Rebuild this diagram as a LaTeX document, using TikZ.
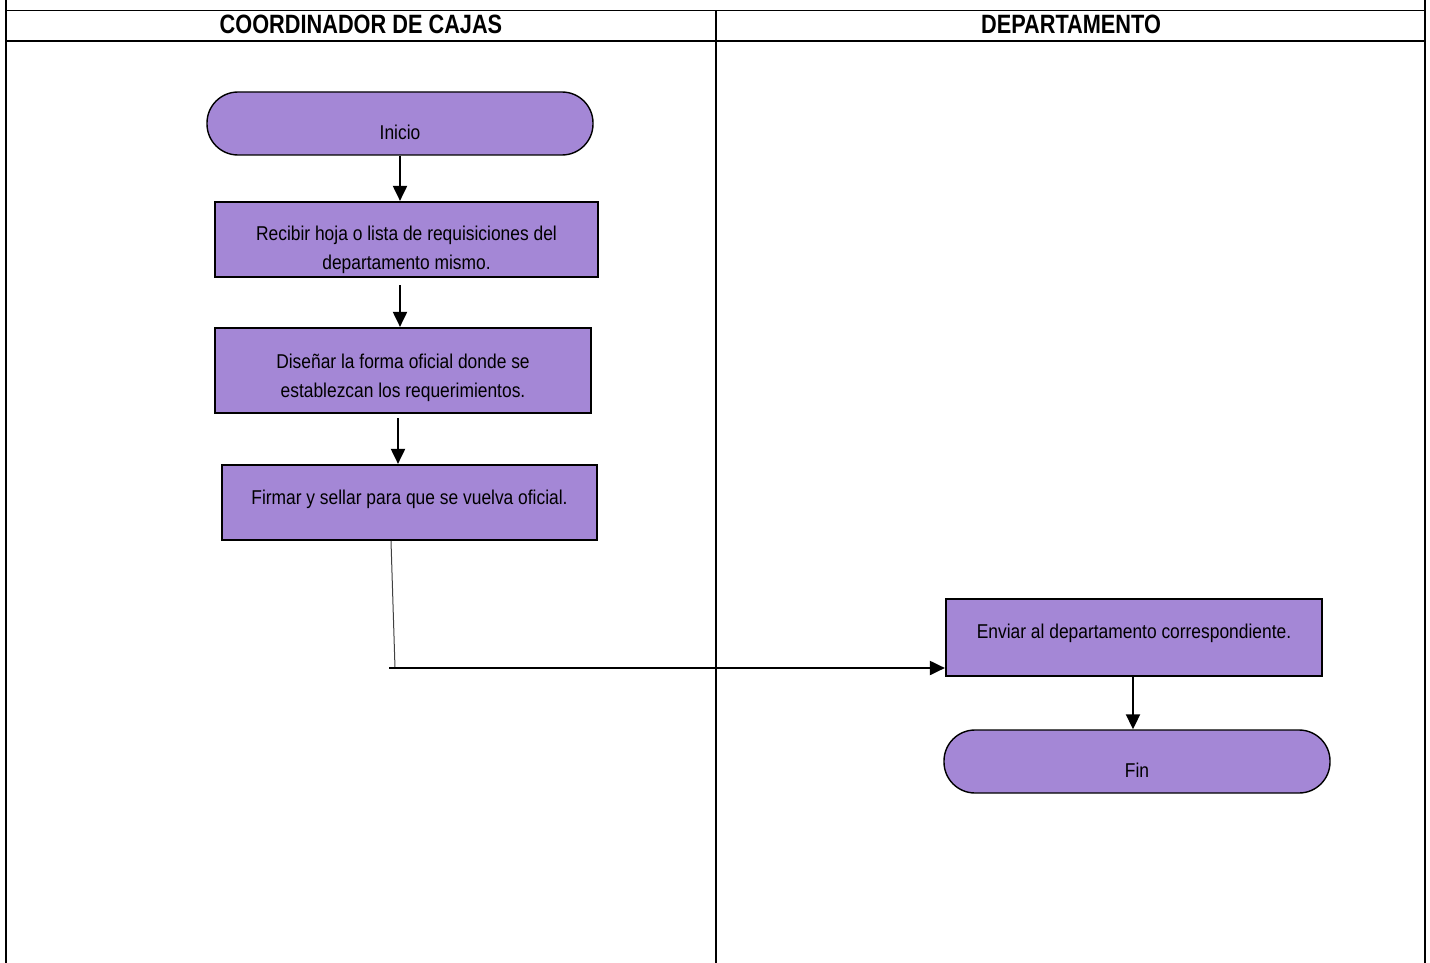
\documentclass[tikz,border=0pt]{standalone}
\usepackage{fontspec}
\setmainfont{Liberation Sans}[FakeStretch=0.82]
\newfontfamily\bodyfont{Liberation Sans}[FakeStretch=0.87]
\usetikzlibrary{arrows.meta}
\definecolor{boxfill}{RGB}{164,135,214}
\begin{document}
\begin{tikzpicture}[x=1pt,y=-1pt,
  frame/.style={line width=1.6pt},
  stepbox/.style={draw, line width=2.2pt, fill=boxfill, align=center,
    font=\bodyfont\fontsize{20}{29}\selectfont, inner sep=0pt, text depth=0pt},
  term/.style={stepbox, line width=1.4pt, rounded corners=31pt},
  flow/.style={line width=2pt, -{Triangle[width=14pt,length=15pt]}},
  hdr/.style={font=\fontsize{26.5}{30}\selectfont\bfseries}
]
\useasboundingbox (0,0) rectangle (1430,963);
% frame
\draw[frame] (6,0) -- (6,963);
\draw[frame] (1425,0) -- (1425,963);
\draw[frame] (6,10.5) -- (1425,10.5);
\draw[frame] (6,41) -- (1425,41);
\draw[frame] (716,10.5) -- (716,963);
\node[hdr] (h1) at (361,24) {COORDINADOR DE CAJAS};
\node[hdr] (h2) at (1071,24) {DEPARTAMENTO};
% nodes
\node[term, minimum width=386pt, minimum height=63pt, text height=32pt] (ini) at (400,123.5) {Inicio};
\node[stepbox, minimum width=383pt, minimum height=75pt, text height=60pt] (b1) at (406.5,239.5) {Recibir hoja o lista de requisiciones del\\departamento mismo.};
\node[stepbox, minimum width=376pt, minimum height=85pt, text height=54pt] (b2) at (403,370.5) {Diseñar la forma oficial donde se\\establezcan los requerimientos.};
\node[stepbox, minimum width=375pt, minimum height=75pt, text height=4pt] (b3) at (409.5,502.5) {Firmar y sellar para que se vuelva oficial.};
\node[stepbox, minimum width=376pt, minimum height=77pt, text height=2pt] (b4) at (1134,637.5) {Enviar al departamento correspondiente.};
\node[term, minimum width=386pt, minimum height=63pt, text height=32pt] (fin) at (1137,761.5) {Fin};
% connectors
\coordinate (a1s) at (400,155);
\draw[flow] (ini.south -| a1s) -- (b1.north -| a1s);
\coordinate (a2) at (400,285);
\draw[flow] (a2) -- (b2.north -| a2);
\coordinate (a3) at (398,418);
\draw[flow] (a3) -- (b3.north -| a3);
\coordinate (c1) at (391,541);
\coordinate (c2) at (395,668);
\coordinate (c3) at (389,668);
\draw[line width=1pt, black!75] (c1) -- (c2);
\draw[flow] (c3) -- (b4.west |- c3);
\coordinate (a4) at (1133,676);
\draw[flow] (b4.south -| a4) -- (fin.north -| a4);
\end{tikzpicture}
\end{document}
